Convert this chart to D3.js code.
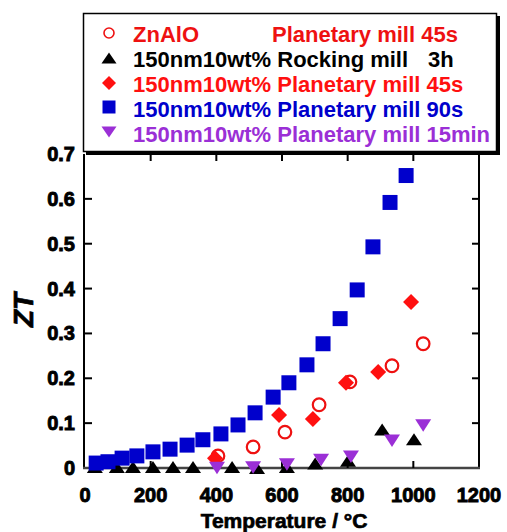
<!DOCTYPE html>
<html><head><meta charset="utf-8">
<script src="https://cdn.jsdelivr.net/npm/d3@7"></script>
<style>
html,body{margin:0;padding:0;background:#fff;}
text{font-family:"Liberation Sans",Arial,Helvetica,sans-serif;font-weight:bold;}
</style></head>
<body>
<svg id="chart" width="507" height="532"></svg>
<script>
// ---- data ----
const xTicks = [0,200,400,600,800,1000,1200];
const yTicks = [0,0.1,0.2,0.3,0.4,0.5,0.6,0.7];
const yTickLabels = ["0","0.1","0.2","0.3","0.4","0.5","0.6","0.7"];

const znaloT  = [405,512,609,713,807,935,1030];
const znaloZT = [0.027,0.047,0.080,0.141,0.192,0.228,0.277];

const rockT  = [30,97,146,207,268,329,448,524,615,701,801,905,1002];
const rockZT = [0.002,0.002,0.002,0.002,0.002,0.002,0.002,0.0,0.002,0.010,0.016,0.086,0.064];

const pl45T  = [396,591,694,795,893,993];
const pl45ZT = [0.022,0.118,0.109,0.190,0.214,0.370];

const pl90T  = [34,70,113,158,207,259,311,359,414,466,518,573,621,676,725,777,829,877,929,978];
const pl90ZT = [0.011,0.014,0.022,0.027,0.036,0.042,0.051,0.063,0.076,0.096,0.123,0.158,0.190,0.230,0.277,0.333,0.397,0.493,0.592,0.652];

const pl15T  = [402,512,615,719,810,935,1030];
const pl15ZT = [0.0,0.001,0.008,0.018,0.025,0.061,0.095];

const legendNames = [
  ["ZnAlO","Planetary mill 45s"],
  ["150nm10wt% Rocking mill","3h"],
  ["150nm10wt% Planetary mill 45s"],
  ["150nm10wt% Planetary mill 90s"],
  ["150nm10wt% Planetary mill 15min"]
];

const RED = "#ee1111", BLUE = "#0000cc", PURPLE = "#9b2fd6", BLACK = "#000";

// ---- layout ----
const svg = d3.select("#chart");
const x = d3.scaleLinear().domain([0,1200]).range([85,479]);
const y = d3.scaleLinear().domain([0,0.7]).range([468,154]);

// marker path generators (centered at 0,0)
function tri(w,h,down){ const s = down?-1:1; return d3.line()([[-w/2,s*h/2],[w/2,s*h/2],[0,-s*h/2]])+"Z"; }
function diamond(w){ return d3.line()([[0,-w/2],[w/2,0],[0,w/2],[-w/2,0]])+"Z"; }
function square(w){ return d3.line()([[-w/2,-w/2],[w/2,-w/2],[w/2,w/2],[-w/2,w/2]])+"Z"; }

// axes frame
const g = svg.append("g");
g.append("line").attr("x1",x(0)-1).attr("x2",x(0)-1).attr("y1",y(0.7)).attr("y2",y(0)).attr("stroke","#000").attr("stroke-width",2);
g.append("line").attr("x1",x(1200)).attr("x2",x(1200)).attr("y1",y(0.7)).attr("y2",y(0)).attr("stroke","#000").attr("stroke-width",2);
g.append("line").attr("x1",x(0)-2).attr("x2",x(1200)+1).attr("y1",y(0)).attr("y2",y(0)).attr("stroke","#444").attr("stroke-width",2.5);

// ticks (inward)
xTicks.slice(1,-1).forEach(t=>{
  g.append("line").attr("x1",x(t)).attr("x2",x(t)).attr("y1",y(0)).attr("y2",y(0)-7).attr("stroke","#000").attr("stroke-width",2);
  g.append("line").attr("x1",x(t)).attr("x2",x(t)).attr("y1",y(0.7)).attr("y2",y(0.7)+7).attr("stroke","#000").attr("stroke-width",2);
});
yTicks.slice(1,-1).forEach(t=>{
  g.append("line").attr("x1",x(0)).attr("x2",x(0)+7).attr("y1",y(t)).attr("y2",y(t)).attr("stroke","#000").attr("stroke-width",2);
  g.append("line").attr("x1",x(1200)).attr("x2",x(1200)-7).attr("y1",y(t)).attr("y2",y(t)).attr("stroke","#000").attr("stroke-width",2);
});

// tick labels
g.selectAll(".xl").data(xTicks).enter().append("text")
  .attr("x",d=>x(d)).attr("y",502).attr("text-anchor","middle")
  .attr("font-size",20).attr("stroke","#000").attr("stroke-width",0.9).text(d=>d);
g.selectAll(".yl").data(yTicks).enter().append("text")
  .attr("x",75).attr("y",d=>y(d)+7).attr("text-anchor","end")
  .attr("font-size",20).attr("stroke","#000").attr("stroke-width",0.9).text((d,i)=>yTickLabels[i]);

// axis titles
svg.append("text").attr("x",284).attr("y",528).attr("text-anchor","middle")
  .attr("font-size",21).attr("stroke","#000").attr("stroke-width",0.7).text("Temperature / °C");
svg.append("text").attr("transform","translate(33,310) rotate(-90)").attr("text-anchor","middle")
  .attr("font-size",28).attr("font-style","italic").attr("stroke","#000").attr("stroke-width",0.7).text("ZT");

// data markers
const marks = svg.append("g");
function pts(T,Z){ return T.map((t,i)=>[t,Z[i]]); }
marks.selectAll(".c").data(pts(znaloT,znaloZT)).enter().append("circle")
  .attr("cx",d=>x(d[0])).attr("cy",d=>y(d[1])).attr("r",6.3)
  .attr("fill","none").attr("stroke",RED).attr("stroke-width",2.2);
marks.selectAll(".t").data(pts(rockT,rockZT)).enter().append("path")
  .attr("d",tri(16,12,false)).attr("transform",d=>`translate(${x(d[0])},${y(d[1])})`).attr("fill",BLACK);
marks.selectAll(".d").data(pts(pl45T,pl45ZT)).enter().append("path")
  .attr("d",diamond(16)).attr("transform",d=>`translate(${x(d[0])},${y(d[1])})`).attr("fill","#ff1010");
marks.selectAll(".s").data(pts(pl90T,pl90ZT)).enter().append("path")
  .attr("d",square(15)).attr("transform",d=>`translate(${x(d[0])},${y(d[1])})`).attr("fill",BLUE);
marks.selectAll(".v").data(pts(pl15T,pl15ZT)).enter().append("path")
  .attr("d",tri(16,12.5,true)).attr("transform",d=>`translate(${x(d[0])},${y(d[1])})`).attr("fill",PURPLE);

// legend
const L = svg.append("g");
L.append("rect").attr("x",86).attr("y",16).attr("width",414).attr("height",139).attr("fill","#000");
L.append("rect").attr("x",83.5).attr("y",13.5).attr("width",413).attr("height",138).attr("fill","#fff").attr("stroke","#000").attr("stroke-width",1.5);
const colors = [RED,BLACK,"#ff1010",BLUE,PURPLE];
const rowY = [42,67,92,117,142];
const lm = L.append("g");
lm.append("circle").attr("cx",109).attr("cy",rowY[0]-9).attr("r",5).attr("fill","none").attr("stroke",RED).attr("stroke-width",1.6);
lm.append("path").attr("d",tri(15,11,false)).attr("transform",`translate(109,${rowY[1]-9})`).attr("fill",BLACK);
lm.append("path").attr("d",diamond(14)).attr("transform",`translate(109,${rowY[2]-9})`).attr("fill","#ff1010");
lm.append("path").attr("d",square(13)).attr("transform",`translate(109,${rowY[3]-10})`).attr("fill",BLUE);
lm.append("path").attr("d",tri(15,11,true)).attr("transform",`translate(109,${rowY[4]-10})`).attr("fill",PURPLE);
legendNames.forEach((parts,i)=>{
  L.append("text").attr("x",133).attr("y",rowY[i]).attr("font-size",22).attr("fill",colors[i]).text(parts[0]);
});
L.append("text").attr("x",272).attr("y",rowY[0]).attr("font-size",22).attr("fill",RED).text(legendNames[0][1]);
L.append("text").attr("x",428).attr("y",rowY[1]).attr("font-size",22).attr("fill",BLACK).text(legendNames[1][1]);
</script>
</body></html>
